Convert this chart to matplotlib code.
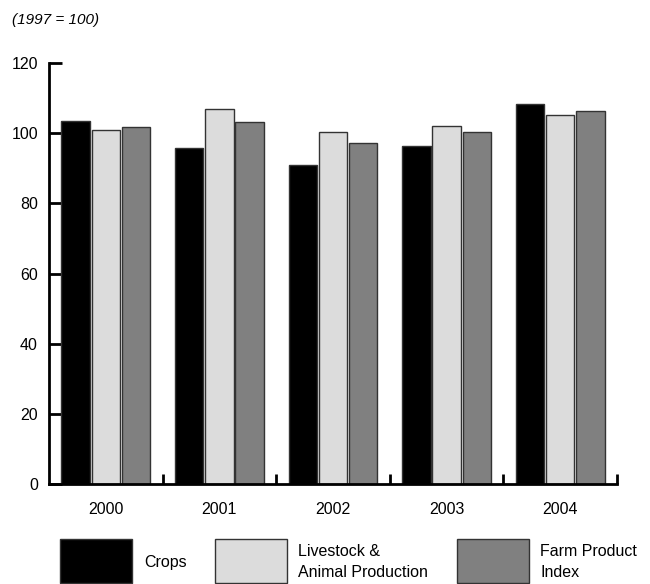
import matplotlib
matplotlib.use('Agg')
import matplotlib.pyplot as plt
import numpy as np
from matplotlib.patches import Rectangle

years = ['2000', '2001', '2002', '2003', '2004']
crops = [103.6, 95.9, 91.1, 96.3, 108.4]
livestock = [100.9, 106.9, 100.3, 102.1, 105.3]
farm_index = [101.8, 103.3, 97.2, 100.3, 106.4]
series_names = ['Crops', 'Livestock &\nAnimal Production', 'Farm Product\nIndex']
colors = ['#000000', '#dcdcdc', '#808080']

plt.rcParams['font.family'] = ['Liberation Sans', 'DejaVu Sans']

fig = plt.figure(figsize=(6.5, 5.84), dpi=100)
ax = fig.add_axes([0.0754, 0.1707, 0.8738, 0.7213])

x = np.arange(len(years))
w = 0.25
off = 0.266
for i, vals in enumerate([crops, livestock, farm_index]):
    ax.bar(x + (i - 1) * off, vals, width=w, color=colors[i],
           edgecolor='#333333', linewidth=1.0, zorder=2)

ax.set_xlim(-0.5, 4.5)
ax.set_ylim(0, 120)
ax.set_yticks(range(0, 121, 20))
ax.spines['top'].set_visible(False)
ax.spines['right'].set_visible(False)
ax.spines['left'].set_linewidth(2.0)
ax.spines['bottom'].set_linewidth(2.0)

ax.tick_params(axis='y', direction='in', length=9, width=2.0, pad=8,
               labelsize=11.5)
# group separators as major ticks, year labels as minor ticks
ax.set_xticks(np.arange(0.5, 5, 1.0))
ax.set_xticklabels([])
ax.tick_params(axis='x', which='major', direction='in', length=7, width=2.0)
ax.set_xticks(x, minor=True)
ax.set_xticklabels(years, minor=True)
ax.tick_params(axis='x', which='minor', length=0, pad=13, labelsize=11.5)

fig.text(0.018, 0.965, '(1997 = 100)', fontsize=11, style='italic',
         ha='left', va='center')

# legend drawn by hand
boxes = [(60, 215, 457), (144, 298, 540)]
for i in range(3):
    bx = boxes[0][i]
    fig.patches.append(Rectangle((bx / 650, 1 - 583 / 584), 72 / 650, 44 / 584,
                                 transform=fig.transFigure, facecolor=colors[i],
                                 edgecolor='#333333', linewidth=1.0))
    fig.text(boxes[1][i] / 650, 1 - 562 / 584, series_names[i], fontsize=11.5,
             ha='left', va='center', linespacing=1.5)

fig.savefig('out.png', dpi=100)
